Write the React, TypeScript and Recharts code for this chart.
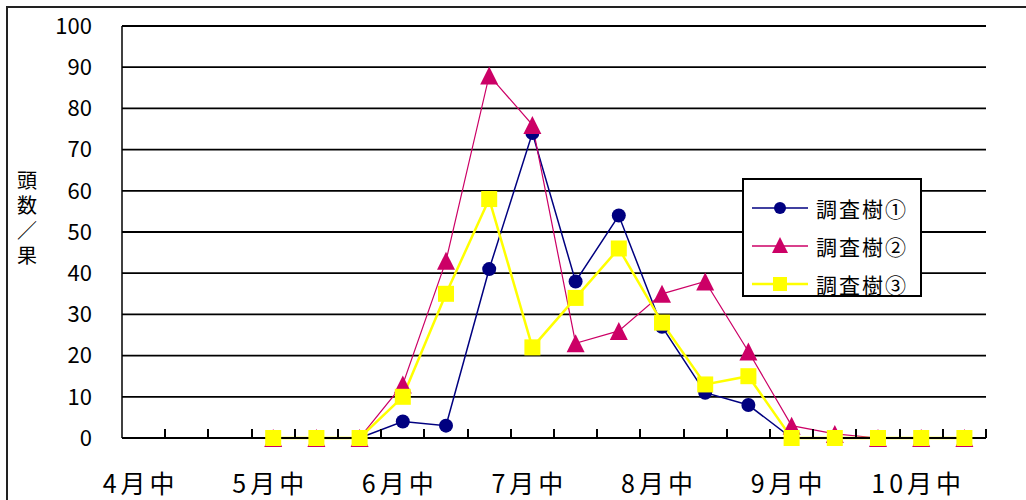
import { CartesianGrid, Legend, Line, LineChart, XAxis, YAxis } from "recharts";

// ten-day periods (上・中・下旬), only every third one is labelled
const periods = [
	"4月中", "4月下", "5月上", "5月中", "5月下", "6月上", "6月中",
	"6月下", "7月上", "7月中", "7月下", "8月上", "8月中", "8月下",
	"9月上", "9月中", "9月下", "10月上", "10月中", "10月下",
];

const tree1 = [null, null, null, 0, 0, 0, 4, 3, 41, 74, 38, 54, 27, 11, 8, 0, 0, 0, 0, 0];
const tree2 = [null, null, null, 0, 0, 0, 13, 43, 88, 76, 23, 26, 35, 38, 21, 3, 1, 0, 0, 0];
const tree3 = [null, null, null, 0, 0, 0, 10, 35, 58, 22, 34, 46, 28, 13, 15, 0, 0, 0, 0, 0];

const yTicks = [0, 10, 20, 30, 40, 50, 60, 70, 80, 90, 100];

const seriesNames = ["調査樹①", "調査樹②", "調査樹③"];

const NAVY = "#000080";
const RED = "#cc0066";
const YELLOW = "#ffff00";
const FONT = "'Noto Sans CJK JP', sans-serif";

const CHART_W = 1026;
const MARGIN = { top: 26, right: 40, bottom: 0, left: 0 };
const Y_AXIS_W = 122;
const PLOT_W = CHART_W - MARGIN.left - MARGIN.right - Y_AXIS_W;

const data = periods.map((period, i) => ({
	period,
	t1: tree1[i],
	t2: tree2[i],
	t3: tree3[i],
}));

function circleDot(p: any) {
	if (p.value == null || p.cy == null) return <g key={`c-${p.index}`} />;
	return <circle key={`c-${p.index}`} cx={p.cx} cy={p.cy} r={7} fill={NAVY} />;
}

function triangleDot(p: any) {
	if (p.value == null || p.cy == null) return <g key={`t-${p.index}`} />;
	const { cx, cy } = p;
	return (
		<polygon
			key={`t-${p.index}`}
			points={`${cx},${cy - 9} ${cx + 9},${cy + 9} ${cx - 9},${cy + 9}`}
			fill={RED}
		/>
	);
}

function squareDot(p: any) {
	if (p.value == null || p.cy == null) return <g key={`s-${p.index}`} />;
	return <rect key={`s-${p.index}`} x={p.cx - 8} y={p.cy - 8} width={16} height={16} fill={YELLOW} />;
}

// tick marks sit on the period boundaries and point up into the plot
function PeriodTick(props: any) {
	const { x, y, payload, index } = props;
	const half = PLOT_W / periods.length / 2;
	const bx = Math.round(x + half);
	return (
		<g>
			<line x1={bx} y1={y} x2={bx} y2={y - 9} stroke="#000" strokeWidth={2} />
			{index % 3 === 0 && (
				<text
					x={x - 3}
					y={y + 55}
					textAnchor="middle"
					fontSize={25}
					letterSpacing={4}
					fontFamily={FONT}
					fill="#000"
				>
					{payload.value}
				</text>
			)}
		</g>
	);
}

function YTitle() {
	const chars = ["頭", "数", "／", "果"];
	return (
		<text x={27} textAnchor="middle" fontSize={20} fontFamily={FONT} fill="#000">
			{chars.map((c, i) => (
				<tspan key={c} x={27} y={188 + i * 25}>
					{c}
				</tspan>
			))}
		</text>
	);
}

function LegendBox() {
	const colors = [NAVY, RED, YELLOW];
	const shapes = [
		<circle cx={28} cy={12} r={6} fill={NAVY} />,
		<polygon points="28,3 36,19 20,19" fill={RED} />,
		<rect x={21} y={5} width={14} height={14} fill={YELLOW} />,
	];
	return (
		<div
			style={{
				width: 180,
				height: 119,
				boxSizing: "border-box",
				border: "2px solid #000",
				background: "#fff",
				paddingTop: 9,
				paddingLeft: 8,
			}}
		>
			{seriesNames.map((name, i) => (
				<div key={name} style={{ display: "flex", alignItems: "center", height: 38 }}>
					<svg width={58} height={24}>
						<line x1={0} y1={12} x2={56} y2={12} stroke={colors[i]} strokeWidth={i === 2 ? 2.5 : 1.5} />
						{shapes[i]}
					</svg>
					<span
						style={{
							fontFamily: FONT,
							fontSize: 21,
							letterSpacing: 2,
							marginLeft: 6,
							color: "#000",
							lineHeight: 1,
						}}
					>
						{name}
					</span>
				</div>
			))}
		</div>
	);
}

export default function App() {
	return (
		<div style={{ position: "absolute", left: 0, top: 0, width: 1026, height: 500, background: "#fff" }}>
			<div
				style={{
					position: "absolute",
					left: 6,
					top: 6,
					width: 1040,
					height: 510,
					border: "2px solid #222",
				}}
			/>
			<div style={{ position: "absolute", left: 0, top: 0 }}>
				<LineChart width={CHART_W} height={500} data={data} margin={MARGIN}>
					<CartesianGrid vertical={false} stroke="#000" strokeWidth={1.8} />
					<XAxis
						dataKey="period"
						scale="band"
						interval={0}
						height={62}
						tickSize={0}
						tickMargin={0}
						tickLine={false}
						axisLine={{ stroke: "#000", strokeWidth: 2 }}
						tick={PeriodTick}
					/>
					<YAxis
						domain={[0, 100]}
						ticks={yTicks}
						width={Y_AXIS_W}
						tickSize={0}
						tickMargin={30}
						tickLine={false}
						axisLine={{ stroke: "#000", strokeWidth: 1.5 }}
						tick={{ fill: "#000", fontSize: 22, fontFamily: FONT }}
						label={{ content: () => <YTitle /> }}
					/>
					<YAxis
						yAxisId="right"
						orientation="right"
						domain={[0, 100]}
						width={0}
						tick={false}
						tickLine={false}
						axisLine={{ stroke: "#000", strokeWidth: 3 }}
					/>
					<Legend
						layout="vertical"
						align="center"
						verticalAlign="middle"
						wrapperStyle={{ left: 742, top: 178, width: 180 }}
						content={() => <LegendBox />}
					/>
					<Line
						dataKey="t1"
						name={seriesNames[0]}
						stroke={NAVY}
						strokeWidth={1.5}
						dot={circleDot}
						isAnimationActive={false}
					/>
					<Line
						dataKey="t2"
						name={seriesNames[1]}
						stroke={RED}
						strokeWidth={1.2}
						dot={triangleDot}
						isAnimationActive={false}
					/>
					<Line
						dataKey="t3"
						name={seriesNames[2]}
						stroke={YELLOW}
						strokeWidth={2.5}
						dot={squareDot}
						isAnimationActive={false}
					/>
				</LineChart>
			</div>
		</div>
	);
}
